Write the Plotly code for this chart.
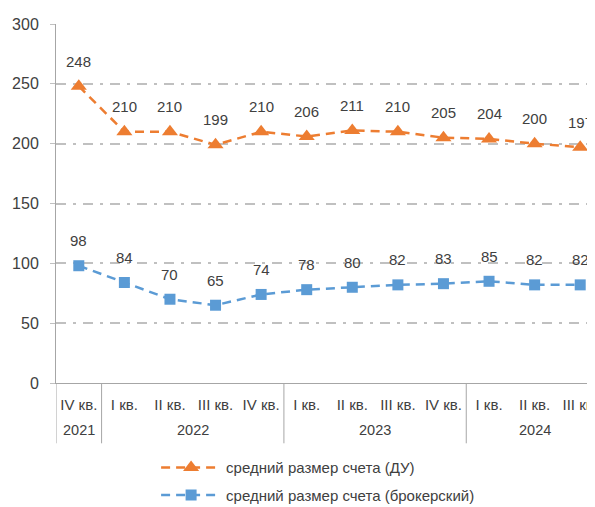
import plotly.graph_objects as go

years = ["2021", "2022", "2022", "2022", "2022", "2023", "2023", "2023", "2023", "2024", "2024", "2024"]
quarters = ["IV кв.", "I кв.", "II кв.", "III кв.", "IV кв.", "I кв.", "II кв.", "III кв.", "IV кв.", "I кв.", "II кв.", "III кв."]
du_values = [248, 210, 210, 199, 210, 206, 211, 210, 205, 204, 200, 197]
broker_values = [98, 84, 70, 65, 74, 78, 80, 82, 83, 85, 82, 82]
du_name = "средний размер счета (ДУ)"
broker_name = "средний размер счета (брокерский)"

ORANGE = "#ED7D31"
BLUE = "#5B9BD5"
TXT = "#404040"
AXIS = "#A6A6A6"
FONT = "Liberation Sans, Arial, sans-serif"

idx = list(range(len(quarters)))

fig = go.Figure()
fig.add_trace(go.Scatter(
    x=idx, y=du_values, name=du_name, mode="lines+markers",
    line=dict(color=ORANGE, width=2.5, dash="9px,6px"),
    marker=dict(symbol="triangle-up", size=14, color=ORANGE),
    legendgroup="a", cliponaxis=False,
))
fig.add_trace(go.Scatter(
    x=idx, y=broker_values, name=broker_name, mode="lines+markers",
    line=dict(color=BLUE, width=2.5, dash="9px,6px"),
    marker=dict(symbol="square", size=11, color=BLUE),
    legendgroup="b", cliponaxis=False,
))

for series in (du_values, broker_values):
    for i, v in zip(idx, series):
        fig.add_annotation(x=i, y=v, text=str(v), showarrow=False, yshift=25,
                           font=dict(size=15, color=TXT, family=FONT))

# year groups: labels and dividers
groups = []
for i, yr in enumerate(years):
    if groups and groups[-1][0] == yr:
        groups[-1][2] = i
    else:
        groups.append([yr, i, i])

for yr, a, b in groups:
    fig.add_annotation(x=(a + b) / 2, y=0, yref="paper", text=yr, showarrow=False,
                       yshift=-57, font=dict(size=14.5, color=TXT, family=FONT))
    fig.add_shape(type="line", xref="x", yref="paper", x0=a - 0.5, x1=a - 0.5,
                  y0=0, y1=-0.168, line=dict(color=AXIS, width=1))

fig.update_layout(
    width=595, height=507,
    margin=dict(l=48, r=0, t=16, b=132, autoexpand=False),
    paper_bgcolor="white", plot_bgcolor="white",
    font=dict(family=FONT, color=TXT, size=14),
    showlegend=True,
    legend=dict(x=0.183, y=-0.19, xanchor="left", yanchor="top",
                font=dict(size=15, color=TXT, family=FONT),
                tracegroupgap=5, itemwidth=60, bgcolor="rgba(0,0,0,0)"),
)
fig.update_yaxes(
    range=[0, 300], tickvals=[0, 50, 100, 150, 200, 250, 300],
    showgrid=True, gridcolor="#C0C0C0", griddash="10px,7px,3px,7px", gridwidth=2,
    zeroline=False, showline=True, linecolor=AXIS, linewidth=1,
    ticks="outside", ticklen=5, tickcolor="#C0C0C0", ticklabelstandoff=8,
    tickfont=dict(size=16, color=TXT, family=FONT),
)
fig.update_xaxes(
    range=[-0.5, 11.5],
    tickvals=idx, ticktext=quarters, ticklabelstandoff=8,
    showline=True, linecolor=AXIS, linewidth=1,
    tickfont=dict(size=15, color=TXT, family=FONT),
    showgrid=False, zeroline=False,
)

fig.write_html("out.html")
